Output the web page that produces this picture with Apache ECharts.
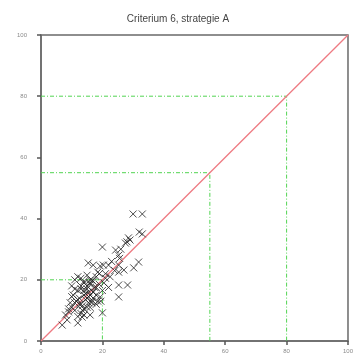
<!DOCTYPE html>
<html>
<head>
<meta charset="utf-8">
<script src="https://cdn.jsdelivr.net/npm/echarts@6/dist/echarts.min.js"></script>
<style>
  html, body { margin: 0; padding: 0; background: #fff; }
  #chart { width: 356px; height: 356px; }
</style>
</head>
<body>
<div id="chart"></div>
<script>
// assen
const axisTicks = [0, 20, 40, 60, 80, 100];
const diagonal = [[0, 0], [100, 100]];
// groene hulplijnen
const guide20 = [[0, 20], [20, 20], [20, 0]];
const guide55 = [[0, 55], [55, 55], [55, 0]];
const guide80 = [[0, 80], [80, 80], [80, 0]];
// meetpunten (x, y)
const pointsX = [
  30, 33, 32, 33, 28.5, 27.5, 28, 29, 20, 24.3, 25.3, 25.6, 15.4, 17, 19.3, 20.3, 22, 25.3,
  31.8, 30.2, 27, 25.3, 25.3, 28.2, 22, 25.3, 19.3, 26, 23, 21, 18, 16.5, 18.5, 20.5,
  6.9, 8.5, 12, 13.4, 16, 20, 9, 10, 11, 11.5, 12.5, 13, 14, 14.5, 15, 15.5, 16, 17,
  10.5, 11, 12, 13, 14, 15, 16, 17, 18, 19, 9.5, 10, 12.5, 13.5, 14.5, 15.5, 16.5,
  11, 12, 13, 14, 15, 16, 17, 18, 10, 12, 14, 16, 18, 19.5, 13, 15, 17, 8, 9, 11,
  13, 14, 15, 16, 12, 13.5, 17.5, 18.5, 20, 21, 14, 15.5, 16.5, 19, 22.5, 24
];
const pointsY = [
  41.5, 41.5, 35.6, 35, 33.7, 32, 32.4, 33, 30.7, 29.7, 28, 27, 25.5, 24.8, 24.5, 24.8, 24.8, 24.8,
  25.8, 23.9, 23.2, 22.5, 18.3, 18.3, 17.5, 14.4, 14.4, 30, 26, 22, 21, 20, 22.5, 19,
  5.2, 6.9, 5.9, 7.8, 8.5, 9.2, 9.5, 11, 10, 13, 12, 9, 10.5, 13.5, 11, 12.5, 15, 14,
  15, 17, 16.5, 18, 19, 17, 18.5, 16, 17.5, 18.5, 12.5, 18, 14, 11.5, 15.5, 16, 13,
  20, 21, 20.5, 19.5, 21.5, 20, 19.5, 15, 14.5, 8, 8.5, 11, 12, 13, 12, 14, 16, 8.5, 10.5, 12.5,
  17, 16.5, 18, 19, 13.5, 10, 17.5, 13, 16.5, 20.5, 15, 14.5, 12.5, 22, 21, 23
];

const points = pointsX.map((x, i) => [x, pointsY[i]]);

function guideSeries (data) {
  return {
    type: 'line',
    data: data,
    symbol: 'none',
    silent: true,
    lineStyle: { color: '#52d452', width: 1, type: [4, 2, 1, 2] },
    z: 2
  };
}

const axisBase = {
  type: 'value',
  min: 0,
  max: 100,
  interval: 20,
  splitLine: { show: false },
  axisLine: { show: true, lineStyle: { color: '#6a6a6a', width: 1.5 } },
  axisTick: { show: true, length: 4, lineStyle: { color: '#555', width: 1.5 } },
  axisLabel: {
    color: '#8a8a8a',
    fontSize: 6,
    margin: 7,
    formatter: v => axisTicks.indexOf(v) >= 0 ? String(v) : ''
  }
};

const chart = echarts.init(document.getElementById('chart'));
chart.setOption({
  animation: false,
  backgroundColor: '#fff',
  title: {
    text: 'Criterium 6, strategie A',
    left: 'center',
    top: 9,
    textStyle: { fontSize: 10, fontWeight: 'normal', color: '#444', fontFamily: 'Liberation Sans' }
  },
  grid: {
    left: 41, right: 8, top: 35, bottom: 15,
    show: true, borderColor: '#6a6a6a', borderWidth: 1.5
  },
  xAxis: Object.assign({}, axisBase),
  yAxis: Object.assign({}, axisBase, {
    axisLabel: Object.assign({}, axisBase.axisLabel, { margin: 14 })
  }),
  series: [
    guideSeries(guide20),
    guideSeries(guide55),
    guideSeries(guide80),
    {
      type: 'line',
      data: diagonal,
      symbol: 'none',
      silent: true,
      lineStyle: { color: '#ee7a82', width: 1.3 },
      z: 3
    },
    {
      type: 'scatter',
      data: points,
      symbol: 'path://M0,0L10,10M10,0L0,10',
      symbolSize: 7,
      itemStyle: { color: 'none', borderColor: '#222', borderWidth: 1 },
      z: 4
    }
  ]
});
</script>
</body>
</html>
